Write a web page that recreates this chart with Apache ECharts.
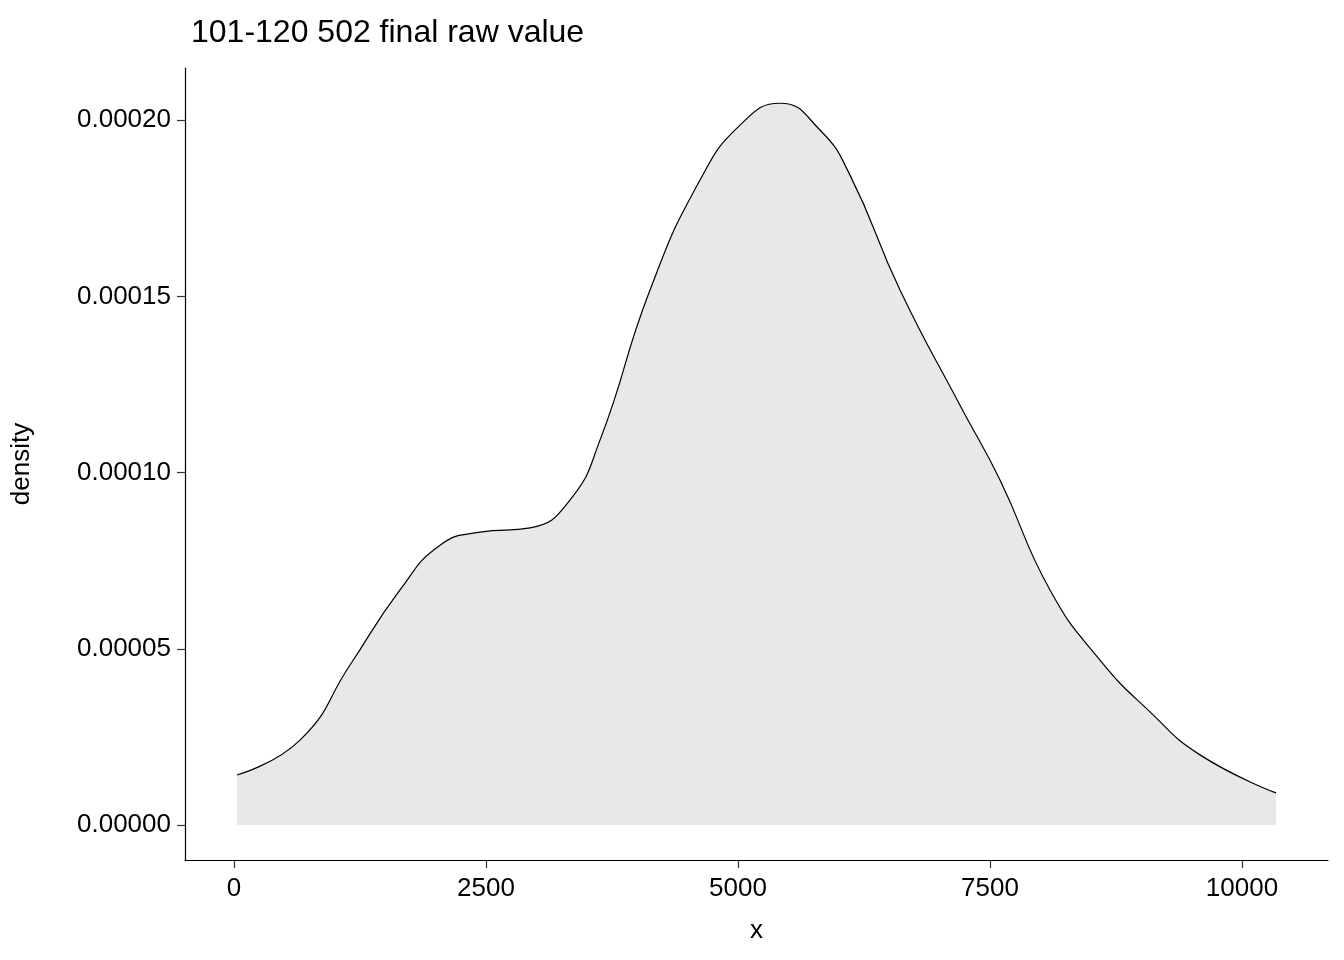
<!DOCTYPE html>
<html>
<head>
<meta charset="utf-8">
<script src="https://cdn.jsdelivr.net/npm/echarts@6/dist/echarts.min.js"></script>
<style>html,body{margin:0;padding:0;background:#fff}#box{width:1344px;height:960px}</style>
</head>
<body>
<div id="box"></div>
<script>
var xs = [30, 655, 1151, 1647, 2044, 2440, 2937, 3333, 3631, 4127, 4623, 5020, 5417, 5813, 6111, 6607, 7202, 7599, 8095, 8591, 9087, 9583, 10337];
var ys = [1.42e-5, 2.41e-5, 4.54e-5, 6.67e-5, 7.94e-5, 8.31e-5, 8.43e-5, 9.22e-5, 1.092e-4, 1.518e-4, 1.830e-4, 1.986e-4, 2.048e-4, 1.972e-4, 1.844e-4, 1.518e-4, 1.191e-4, 9.79e-5, 6.67e-5, 4.68e-5, 3.21e-5, 1.99e-5, 9.1e-6];
var xTicks = [0, 2500, 5000, 7500, 10000];
var yTicks = [0, 0.00005, 0.0001, 0.00015, 0.0002];

var points = xs.map(function (x, i) { return [x, ys[i]]; });
var myChart = echarts.init(document.getElementById('box'));
var font = 'Liberation Sans, Arial, sans-serif';
myChart.setOption({
    animation: false,
    title: {
        text: '101-120 502 final raw value',
        left: 186, top: 12,
        textStyle: { fontFamily: font, fontSize: 32, fontWeight: 'normal', color: '#000' }
    },
    grid: { left: 185, right: 16, top: 68, bottom: 100 },
    xAxis: {
        type: 'value', min: -486, max: 10853,
        name: 'x', nameLocation: 'middle', nameGap: 58,
        nameTextStyle: { fontFamily: font, fontSize: 26, color: '#000' },
        axisLine: { show: true, onZero: false, lineStyle: { color: '#000', width: 1.2 } },
        axisTick: { show: true, length: 8, customValues: xTicks, lineStyle: { color: '#333', width: 1.2 } },
        axisLabel: { customValues: xTicks, fontFamily: font, fontSize: 26, color: '#000', margin: 16,
            formatter: function (v) { return String(v); } },
        splitLine: { show: false }
    },
    yAxis: {
        type: 'value', min: -0.00000993, max: 0.0002148,
        name: 'density', nameLocation: 'middle', nameGap: 150, nameRotate: 90,
        nameTextStyle: { fontFamily: font, fontSize: 26, color: '#000' },
        axisLine: { show: true, onZero: false, lineStyle: { color: '#000', width: 1.2 } },
        axisTick: { show: true, length: 8, customValues: yTicks, lineStyle: { color: '#333', width: 1.2 } },
        axisLabel: {
            customValues: yTicks, fontFamily: font, fontSize: 26, color: '#000', margin: 14,
            formatter: function (v) { return v.toFixed(5); }
        },
        splitLine: { show: false }
    },
    series: [{
        type: 'line', data: points, smooth: 0.5, symbol: 'none',
        lineStyle: { color: '#000', width: 1.2 },
        areaStyle: { color: '#E8E8E8', opacity: 1, origin: 0 }
    }]
});
</script>
</body>
</html>
